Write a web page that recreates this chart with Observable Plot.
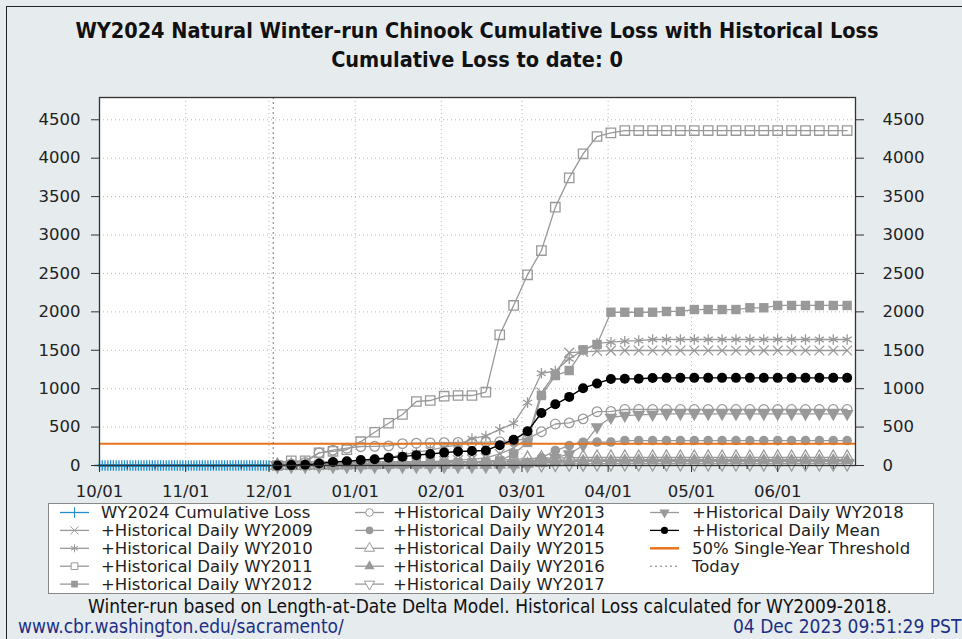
<!DOCTYPE html>
<html><head><meta charset="utf-8">
<script src="https://cdn.jsdelivr.net/npm/d3@7"></script>
<script src="https://cdn.jsdelivr.net/npm/@observablehq/plot@0.6"></script>
<style>
html,body{margin:0;padding:0;background:#e6ebee;}
#wrap{position:relative;width:962px;height:639px;overflow:hidden;background:#e6ebee;font-family:"DejaVu Sans",sans-serif;}
#border{position:absolute;left:6px;top:6px;width:1000px;height:700px;border:1.5px solid #222;box-sizing:border-box;}
#plot{position:absolute;left:0;top:0;}
.ttl{position:absolute;left:0;width:954px;text-align:center;font-family:"DejaVu Sans Condensed","DejaVu Sans",sans-serif;font-weight:bold;font-size:21.5px;color:#111;white-space:nowrap;}
#legend{position:absolute;left:48px;top:503px;}
.foot{position:absolute;font-family:"DejaVu Sans Condensed","DejaVu Sans",sans-serif;font-size:19px;white-space:nowrap;}
</style></head>
<body><div id="wrap">
<div id="border"></div>
<div id="plot"></div>
<div class="ttl" style="top:18px">WY2024 Natural Winter-run Chinook Cumulative Loss with Historical Loss</div>
<div class="ttl" style="top:47px">Cumulative Loss to date: 0</div>
<svg id="legend" width="887" height="92"></svg>
<div class="foot" style="left:0;width:980px;text-align:center;top:595px;color:#111">Winter-run based on Length-at-Date Delta Model. Historical Loss calculated for WY2009-2018.</div>
<div class="foot" style="left:18px;top:615px;color:#1c2f85">www.cbr.washington.edu/sacramento/</div>
<div class="foot" style="left:733px;top:615px;color:#1c2f85">04 Dec 2023 09:51:29 PST</div>
</div>
<script>
// ---- data ----
const histDates = ["2023-12-04","2023-12-09","2023-12-14","2023-12-19","2023-12-24","2023-12-29",
"2024-01-03","2024-01-08","2024-01-13","2024-01-18","2024-01-23","2024-01-28",
"2024-02-02","2024-02-07","2024-02-12","2024-02-17","2024-02-22","2024-02-27",
"2024-03-03","2024-03-08","2024-03-13","2024-03-18","2024-03-23","2024-03-28",
"2024-04-02","2024-04-07","2024-04-12","2024-04-17","2024-04-22","2024-04-27",
"2024-05-02","2024-05-07","2024-05-12","2024-05-17","2024-05-22","2024-05-27",
"2024-06-01","2024-06-06","2024-06-11","2024-06-16","2024-06-21","2024-06-26"];

const wy2009 = [0,0,0,5,5,10, 15,20,25,30,40,50, 60,70,80,100,150,230, 350,950,1200,1470,1480,1490, 1495,1497,1497,1497,1497,1497, 1497,1497,1497,1497,1497,1497, 1497,1497,1497,1497,1497,1497];
const wy2010 = [0,0,5,10,20,30, 50,70,100,140,170,200, 240,270,350,385,470,548, 818,1200,1230,1390,1500,1590, 1605,1618,1625,1640,1640,1640, 1640,1640,1640,1640,1640,1640, 1640,1640,1640,1640,1640,1640];
const wy2011 = [0,60,60,165,185,205, 310,433,550,664,833,846, 902,911,911,954,1701,2083, 2482,2798,3362,3744,4057,4282, 4330,4360,4360,4360,4360,4360, 4360,4360,4360,4360,4360,4360, 4360,4360,4360,4360,4360,4360];
const wy2012 = [0,10,10,15,15,20, 20,25,25,30,30,30, 30,35,35,40,60,150, 300,911,1171,1236,1506,1575, 1995,1995,1995,1995,2005,2005, 2030,2030,2030,2030,2053,2053, 2083,2083,2083,2083,2083,2083];
const wy2013 = [0,20,40,165,200,225, 245,250,255,285,290,295, 298,300,300,305,310,320, 350,440,540,555,607,700, 705,729,729,729,729,729, 729,729,729,729,729,729, 729,729,729,729,729,729];
const wy2014 = [0,0,0,0,5,5, 5,5,5,10,10,10, 10,10,10,10,15,20, 40,100,195,260,303,305, 305,325,325,325,325,325, 325,325,325,325,325,325, 325,325,325,325,325,325];
const wy2015 = [0,0,0,5,5,10, 10,15,20,25,30,35, 40,45,50,60,70,80, 90,95,100,100,104,104, 104,104,104,104,104,104, 104,104,104,104,104,104, 104,104,104,104,104,104];
const wy2016 = [0,0,0,0,0,0, 0,0,5,5,5,5, 5,5,5,5,10,10, 20,30,40,50,55,60, 60,62,65,65,65,65, 65,65,65,65,65,65, 65,65,65,65,65,65];
const wy2017 = [0,0,0,0,0,0, 0,0,0,0,0,0, 0,0,0,0,0,5, 10,15,20,22,24,25, 26,26,26,26,26,26, 26,26,26,26,26,26, 26,26,26,26,26,26];
const wy2018 = [0,0,0,0,0,0, 0,0,0,0,5,5, 5,5,5,5,10,20, 30,60,100,150,260,500, 625,650,660,665,673,673, 673,673,673,673,673,673, 673,673,673,673,673,673];
const histMean = [0,5,10,25,45,55, 70,82,100,115,135,150, 168,182,188,195,264,334, 445,683,797,893,1006,1068, 1126,1128,1130,1138,1141,1141, 1141,1141,1141,1141,1141,1141, 1141,1141,1141,1141,1141,1141];

// WY2024 daily cumulative loss, Oct 1 .. Dec 1
const wy2024Start = "2023-10-01";
const wy2024Loss = [0,0,0,0,0,0,0,0,0,0, 0,0,0,0,0,0,0,0,0,0, 0,0,0,0,0,0,0,0,0,0, 0,0,0,0,0,0,0,0,0,0, 0,0,0,0,0,0,0,0,0,0, 0,0,0,0,0,0,0,0,0,0, 0,0];

const threshold = 283;
const today = "2023-12-02T12:00:00Z";
const xDomain = ["2023-10-01","2024-06-29"];
const yDomain = [0, 4790];
const yTicks = [0,500,1000,1500,2000,2500,3000,3500,4000,4500];
const monthTicks = ["2023-10-01","2023-11-01","2023-12-01","2024-01-01","2024-02-01","2024-03-01","2024-04-01","2024-05-01","2024-06-01"];
const minorTicks = ["2023-10-11","2023-10-21","2023-11-11","2023-11-21","2023-12-11","2023-12-21","2024-01-11","2024-01-21","2024-02-11","2024-02-21","2024-03-11","2024-03-21","2024-04-11","2024-04-21","2024-05-11","2024-05-21","2024-06-11","2024-06-21"];

// ---- styling ----
const GRAY = "#999999";
const FS = 16.5;
const sqrt3 = Math.sqrt(3);
const triDown = {draw(ctx, size){ const y = -Math.sqrt(size/(sqrt3*3)); ctx.moveTo(0,-y*2); ctx.lineTo(-sqrt3*y, y); ctx.lineTo(sqrt3*y, y); ctx.closePath(); }};

const series = [
  {name:"+Historical Daily WY2009", values:wy2009, symbol:"times", d3sym:d3.symbolTimes, open:true, r:4.5},
  {name:"+Historical Daily WY2010", values:wy2010, symbol:"asterisk", d3sym:d3.symbolAsterisk, open:true, r:5},
  {name:"+Historical Daily WY2011", values:wy2011, symbol:"square", d3sym:d3.symbolSquare, open:true, r:5.3},
  {name:"+Historical Daily WY2012", values:wy2012, symbol:"square", d3sym:d3.symbolSquare, open:false, r:5.3},
  {name:"+Historical Daily WY2013", values:wy2013, symbol:"circle", d3sym:d3.symbolCircle, open:true, r:4.8},
  {name:"+Historical Daily WY2014", values:wy2014, symbol:"circle", d3sym:d3.symbolCircle, open:false, r:4.8},
  {name:"+Historical Daily WY2015", values:wy2015, symbol:"triangle", d3sym:d3.symbolTriangle, open:true, r:4.8},
  {name:"+Historical Daily WY2016", values:wy2016, symbol:"triangle", d3sym:d3.symbolTriangle, open:false, r:4.8},
  {name:"+Historical Daily WY2017", values:wy2017, symbol:triDown, d3sym:triDown, open:true, r:4.8},
  {name:"+Historical Daily WY2018", values:wy2018, symbol:triDown, d3sym:triDown, open:false, r:4.8}
];

const parse = s => new Date(s.length === 10 ? s + "T00:00:00Z" : s);
const hd = histDates.map(parse);
const start = parse(wy2024Start);
const blueRows = wy2024Loss.map((v,i) => ({date: d3.utcDay.offset(start, i), v}));
const meanRows = histMean.map((v,i) => ({date: hd[i], v}));

const marks = [Plot.frame({fill:"white", stroke:null}),
  Plot.gridY(yTicks.slice(1), {stroke:"#b8b8b8", strokeOpacity:1, strokeDasharray:"1,3"}),
  Plot.gridX(monthTicks.slice(1).map(parse), {stroke:"#b8b8b8", strokeOpacity:1, strokeDasharray:"1,3"})
];
for (const s of series) {
  const rows = s.values.map((v,i) => ({date: hd[i], v}));
  marks.push(Plot.line(rows, {x:"date", y:"v", stroke:GRAY, strokeWidth:1.3}));
  marks.push(Plot.dot(rows, {x:"date", y:"v", symbol:s.symbol, r:s.r,
     fill: s.open ? "none" : GRAY, stroke: GRAY, strokeWidth: s.open ? 1.3 : 0}));
}
marks.push(
  Plot.ruleY([threshold], {stroke:"#e8731e", strokeWidth:2}),
  Plot.line(meanRows, {x:"date", y:"v", stroke:"black", strokeWidth:1.4}),
  Plot.dot(meanRows, {x:"date", y:"v", r:5, fill:"black", stroke:"none"}),
  Plot.ruleX([parse(today)], {stroke:"#777", strokeDasharray:"2,3", strokeWidth:1}),
  Plot.line(blueRows, {x:"date", y:"v", stroke:"#1f8fd1", strokeWidth:2.5}),
  Plot.dot(blueRows, {x:"date", y:"v", symbol:"plus", r:3.5, stroke:"#1f8fd1", strokeWidth:1.3}),
  Plot.axisY(yTicks, {anchor:"left", tickSize:8, tickPadding:11, fontSize:FS, stroke:"#333", tickFormat:d3.format("d")}),
  Plot.axisY(yTicks, {anchor:"right", tickSize:8, tickPadding:19, fontSize:FS, stroke:"#333", tickFormat:d3.format("d")}),
  Plot.axisX(monthTicks.map(parse), {tickSize:7, tickPadding:13, fontSize:FS, stroke:"#333", tickFormat:d3.utcFormat("%m/%d")}),
  Plot.axisX(minorTicks.map(parse), {tickSize:4, tickFormat:() => "", stroke:"#333"}),
  Plot.frame({stroke:"#333", strokeWidth:1.3})
);

const chart = Plot.plot({
  width: 962, height: 500,
  marginLeft: 99, marginRight: 107, marginTop: 97, marginBottom: 35,
  x: {type:"utc", domain: xDomain.map(parse), axis:null, label:null},
  y: {domain: yDomain, axis:null, label:null},
  style: {background:"transparent", fontFamily:"DejaVu Sans, sans-serif", fontSize:FS+"px", color:"#222", overflow:"visible"},
  marks
});
document.getElementById("plot").appendChild(chart);

// ---- legend ----
const leg = d3.select("#legend");
leg.append("rect").attr("x",0.5).attr("y",0.5).attr("width",885).attr("height",90).attr("fill","white").attr("stroke","#888");
const items = [
  {name:"WY2024 Cumulative Loss", color:"#1f8fd1", sym:d3.symbolPlus, open:true, size:40},
  ...series.map(s => ({name:s.name, color:GRAY, sym:s.d3sym, open:s.open, size:45})),
  {name:"+Historical Daily Mean", color:"black", sym:d3.symbolCircle, open:false, size:40},
  {name:"50% Single-Year Threshold", color:"#e8731e", line:true},
  {name:"Today", color:"#777", dotted:true}
];
const cols = [{lx:12, tx:53}, {lx:307, tx:345}, {lx:602, tx:644}];
items.forEach((it, i) => {
  const c = Math.floor(i/5), r = i % 5;
  const col = cols[c];
  const y = 9.5 + r*17.9;
  const g = leg.append("g");
  g.append("line").attr("x1",col.lx).attr("x2",col.lx+29).attr("y1",y).attr("y2",y)
   .attr("stroke", it.color).attr("stroke-width", it.line ? 2.5 : (it.dotted ? 1 : 1.3))
   .attr("stroke-dasharray", it.dotted ? "2,3" : null);
  if (it.sym) {
    g.append("path").attr("transform",`translate(${col.lx+14.5},${y})`)
     .attr("d", d3.symbol(it.sym, it.size)())
     .attr("fill", it.open ? "white" : it.color).attr("stroke", it.color).attr("stroke-width", it.open ? 1 : 0);
  }
  g.append("text").attr("x", col.tx).attr("y", y).attr("dy","0.36em")
   .attr("font-family","DejaVu Sans, sans-serif").attr("font-size",FS).attr("fill","#222").text(it.name);
});
</script>
</body></html>
